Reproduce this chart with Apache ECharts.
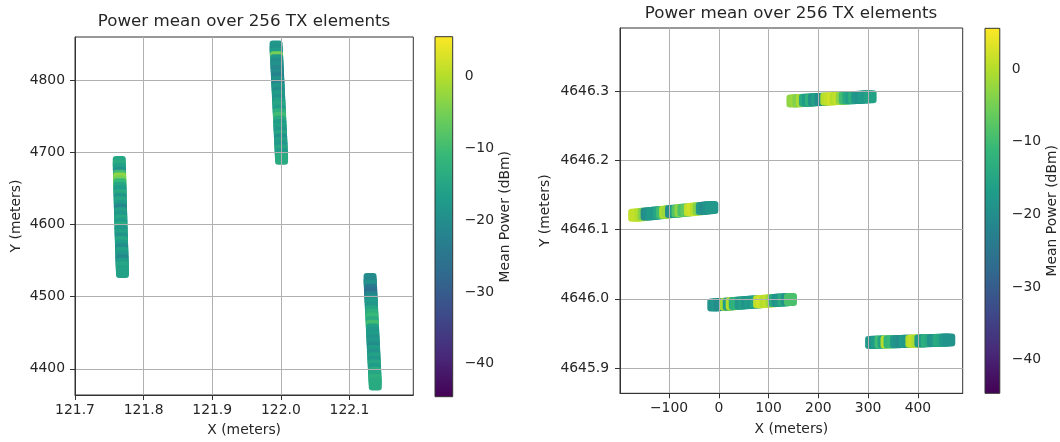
<!DOCTYPE html>
<html><head><meta charset="utf-8">
<script src="https://cdn.jsdelivr.net/npm/echarts@6/dist/echarts.min.js"></script>
<style>html,body{margin:0;padding:0;background:#fff}#c{width:1060px;height:442px}</style>
</head><body><div id="c"></div>
<script>
// ---- Left plot strips: [x, y, meanPower dBm] ----
const leftStrip1 = [
[121.7645,4686,-15],[121.7646,4681,-14],[121.7648,4676,-16],[121.7649,4671,-19],[121.7650,4667,-10],
[121.7651,4663,-3],[121.7652,4659,-5],[121.7654,4655,-11],[121.7655,4650,-15],[121.7656,4645,-17],
[121.7658,4640,-14],[121.7659,4635,-18],[121.7660,4630,-15],[121.7662,4625,-17],[121.7663,4620,-21],
[121.7665,4615,-16],[121.7666,4610,-18],[121.7668,4605,-15],[121.7669,4600,-17],[121.7671,4595,-14],
[121.7672,4590,-18],[121.7674,4585,-16],[121.7676,4580,-19],[121.7677,4575,-15],[121.7679,4570,-17],
[121.7681,4565,-20],[121.7683,4560,-16],[121.7684,4555,-18],[121.7686,4550,-21],[121.7688,4545,-17],
[121.7690,4540,-15],[121.7692,4535,-16]
];
const leftStrip2 = [
[121.9930,4846,-18],[121.9933,4841,-19],[121.9935,4836,-17],[121.9938,4831,-5],[121.9940,4827,-18],
[121.9943,4822,-20],[121.9946,4817,-19],[121.9948,4812,-21],[121.9951,4807,-20],[121.9953,4802,-22],
[121.9956,4797,-19],[121.9959,4792,-21],[121.9961,4787,-18],[121.9964,4782,-20],[121.9966,4777,-17],
[121.9969,4772,-19],[121.9972,4767,-16],[121.9974,4762,-15],[121.9977,4757,-17],[121.9979,4752,-13],
[121.9982,4747,-10],[121.9985,4742,-14],[121.9987,4737,-17],[121.9990,4732,-16],[121.9992,4727,-18],
[121.9995,4722,-15],[121.9998,4717,-19],[122.0000,4712,-16],[122.0003,4707,-18],[122.0005,4702,-15],
[122.0008,4697,-17],[122.0010,4692,-14]
];
const leftStrip3 = [
[122.1300,4524,-20],[122.1303,4519,-21],[122.1305,4514,-19],[122.1308,4509,-24],[122.1310,4504,-26],
[122.1313,4499,-22],[122.1316,4494,-19],[122.1318,4489,-17],[122.1321,4484,-18],[122.1323,4479,-15],
[122.1326,4474,-13],[122.1329,4469,-11],[122.1331,4464,-14],[122.1334,4459,-10],[122.1336,4454,-16],
[122.1339,4449,-18],[122.1342,4444,-17],[122.1344,4439,-19],[122.1347,4434,-18],[122.1349,4429,-20],
[122.1352,4424,-17],[122.1355,4419,-19],[122.1357,4414,-16],[122.1360,4409,-18],[122.1362,4404,-15],
[122.1365,4399,-17],[122.1368,4394,-14],[122.1370,4389,-15],[122.1373,4384,-13],[122.1376,4379,-14]
];
// ---- Right plot strips: [x, y, meanPower dBm] ----
const rightStripA = [
[-169,4646.1206,1],[-163,4646.1210,1],[-157,4646.1215,0],[-150,4646.1219,-4],[-144,4646.1224,-20],
[-138,4646.1228,-19],[-132,4646.1233,-17],[-126,4646.1237,-18],[-119,4646.1242,-15],[-113,4646.1246,-10],
[-107,4646.1251,-1],[-101,4646.1255,-2],[-95,4646.1260,-20],[-88,4646.1264,-18],[-82,4646.1269,-8],
[-76,4646.1273,-3],[-70,4646.1278,-9],[-64,4646.1282,-7],[-57,4646.1287,1],[-51,4646.1291,2],
[-45,4646.1296,0],[-39,4646.1300,-4],[-33,4646.1305,-18],[-26,4646.1309,-20],[-20,4646.1314,-19],
[-14,4646.1318,-18]
];
const rightStripB = [
[149,4646.2856,-3],[155,4646.2858,-2],[161,4646.2861,-4],[168,4646.2863,-1],[174,4646.2866,-14],
[180,4646.2868,-17],[186,4646.2871,-12],[192,4646.2873,-19],[199,4646.2876,-16],[205,4646.2878,-20],
[211,4646.2881,-19],[217,4646.2883,0],[223,4646.2886,1],[230,4646.2888,2],[236,4646.2891,0],
[242,4646.2893,1],[248,4646.2896,-3],[254,4646.2898,-10],[261,4646.2901,-14],[267,4646.2903,-16],
[273,4646.2906,-13],[279,4646.2908,-18],[285,4646.2911,-19],[292,4646.2913,-17],[298,4646.2916,-18],
[304,4646.2918,-16]
];
const rightStripC = [
[-10,4645.9909,-19],[-4,4645.9912,-18],[3,4645.9916,-20],[9,4645.9919,-19],[15,4645.9922,-1],
[21,4645.9925,-17],[27,4645.9929,0],[33,4645.9932,-13],[39,4645.9935,-12],[45,4645.9939,-18],
[52,4645.9942,-16],[58,4645.9945,-19],[64,4645.9948,-17],[70,4645.9952,-18],[76,4645.9955,-15],
[82,4645.9958,1],[88,4645.9962,2],[95,4645.9965,0],[101,4645.9968,1],[107,4645.9971,-2],
[113,4645.9975,-14],[119,4645.9978,-19],[125,4645.9981,-18],[131,4645.9984,-14],[138,4645.9988,-19],
[144,4645.9991,-9]
];
const rightStripD = [
[307,4645.9370,-18],[313,4645.9371,-19],[319,4645.9373,-17],[326,4645.9374,-10],[332,4645.9375,-16],
[338,4645.9377,0],[344,4645.9378,-12],[350,4645.9380,-11],[357,4645.9381,-18],[363,4645.9382,-19],
[369,4645.9384,-20],[375,4645.9385,-17],[381,4645.9386,-18],[388,4645.9388,0],[394,4645.9389,1],
[400,4645.9390,-1],[406,4645.9392,-18],[412,4645.9393,-17],[419,4645.9394,-13],[425,4645.9396,-14],
[431,4645.9397,-19],[437,4645.9398,-18],[443,4645.9400,-14],[450,4645.9401,-15],[456,4645.9403,-18],
[462,4645.9404,-19]
];
// ---- Axis ranges & tick labels ----
const leftXRange = [121.7, 122.193];
const leftYRange = [4363.8, 4859.9];
const rightXRange = [-198.5, 490];
const rightYRange = [4645.8635, 4646.391];
const powerRange = [-44.6, 5.6];
const leftXTicks = [121.7, 121.8, 121.9, 122.0, 122.1];
const leftYTicks = [4400, 4500, 4600, 4700, 4800];
const rightXTicks = [-100, 0, 100, 200, 300, 400];
const rightYTicks = [4645.9, 4646.0, 4646.1, 4646.2, 4646.3];
const cbarTicks = [-40, -30, -20, -10, 0];
const viridis = ['#440154','#482878','#3e4989','#31688e','#26828e','#1f9e89','#35b779','#6ece58','#b5de2b','#fde725'];

const FONT = 'DejaVu Sans';
const TXT = '#262626';
const minus = s => String(s).replace('-', '\u2212');

function plotAxis(grid, range, ticks, fmt, name, gap, margin) {
  return {
    type: 'value', gridIndex: grid, min: range[0], max: range[1], z: 10,
    name: name, nameLocation: 'middle', nameGap: gap,
    nameTextStyle: {fontFamily: FONT, fontSize: 13.9, color: TXT},
    axisLine: {show: true, onZero: false, lineStyle: {color: '#333', width: 1}},
    axisTick: {show: true, customValues: ticks, length: 5, lineStyle: {color: '#333', width: 1}},
    axisLabel: {customValues: ticks, formatter: fmt, fontFamily: FONT, fontSize: 13.9, color: TXT, margin: margin},
    splitLine: {show: true, lineStyle: {color: '#b0b0b0', width: 1}}
  };
}
function cbarX(grid) {
  return {type: 'value', gridIndex: grid, min: 0, max: 1, show: false};
}
function cbarY(grid, gap) {
  return {
    type: 'value', gridIndex: grid, min: powerRange[0], max: powerRange[1], position: 'right',
    name: 'Mean Power (dBm)', nameLocation: 'middle', nameGap: gap, nameRotate: 90,
    nameTextStyle: {fontFamily: FONT, fontSize: 13.9, color: TXT},
    axisLine: {show: false},
    axisTick: {show: true, customValues: cbarTicks, length: 5, lineStyle: {color: '#333', width: 1}},
    axisLabel: {customValues: cbarTicks, formatter: v => minus(v), fontFamily: FONT, fontSize: 13.9, color: TXT, margin: 12},
    splitLine: {show: false}
  };
}
function scatter(data, xi, yi) {
  return {type: 'scatter', xAxisIndex: xi, yAxisIndex: yi, data: data, symbol: 'roundRect', symbolSize: 13,
          itemStyle: {opacity: 1}, silent: true, animation: false};
}
function cbarSeries(xi, yi) {
  return {
    type: 'custom', xAxisIndex: xi, yAxisIndex: yi, silent: true, animation: false,
    data: [[0, powerRange[0], 1, powerRange[1]]],
    encode: {x: [0, 2], y: [1, 3]},
    renderItem: function (params, api) {
      const p0 = api.coord([api.value(0), api.value(1)]);
      const p1 = api.coord([api.value(2), api.value(3)]);
      return {
        type: 'rect',
        shape: {x: p0[0], y: p1[1], width: p1[0] - p0[0], height: p0[1] - p1[1]},
        style: {
          fill: new echarts.graphic.LinearGradient(0, 1, 0, 0,
            viridis.map((c, i) => ({offset: i / (viridis.length - 1), color: c}))),
          stroke: '#333', lineWidth: 1
        }
      };
    }
  };
}

const chart = echarts.init(document.getElementById('c'));
chart.setOption({
  backgroundColor: '#fff',
  animation: false,
  title: [
    {text: 'Power mean over 256 TX elements', left: 244, top: 13, textAlign: 'center', padding: 0,
     textStyle: {fontFamily: FONT, fontSize: 16.7, fontWeight: 'normal', color: TXT}},
    {text: 'Power mean over 256 TX elements', left: 791, top: 5, textAlign: 'center', padding: 0,
     textStyle: {fontFamily: FONT, fontSize: 16.7, fontWeight: 'normal', color: TXT}}
  ],
  grid: [
    {left: 75, top: 37, width: 338.3, height: 360, show: true, borderColor: '#333', borderWidth: 1, backgroundColor: 'transparent'},
    {left: 435, top: 36.7, width: 17.7, height: 360},
    {left: 620, top: 28, width: 342.7, height: 365.3, show: true, borderColor: '#333', borderWidth: 1, backgroundColor: 'transparent'},
    {left: 985, top: 28.3, width: 17.7, height: 365}
  ],
  xAxis: [
    plotAxis(0, leftXRange, leftXTicks, v => v.toFixed(1), 'X (meters)', 28, 8),
    cbarX(1),
    plotAxis(2, rightXRange, rightXTicks, v => minus(v), 'X (meters)', 29, 8),
    cbarX(3)
  ],
  yAxis: [
    plotAxis(0, leftYRange, leftYTicks, v => String(v), 'Y (meters)', 52, 10),
    cbarY(1, 45),
    plotAxis(2, rightYRange, rightYTicks, v => v.toFixed(1), 'Y (meters)', 68, 11),
    cbarY(3, 43)
  ],
  visualMap: [
    {type: 'continuous', show: false, min: powerRange[0], max: powerRange[1], dimension: 2,
     seriesIndex: [0, 1, 2], inRange: {color: viridis}},
    {type: 'continuous', show: false, min: powerRange[0], max: powerRange[1], dimension: 2,
     seriesIndex: [4, 5, 6, 7], inRange: {color: viridis}}
  ],
  series: [
    scatter(leftStrip1, 0, 0),
    scatter(leftStrip2, 0, 0),
    scatter(leftStrip3, 0, 0),
    cbarSeries(1, 1),
    scatter(rightStripA, 2, 2),
    scatter(rightStripB, 2, 2),
    scatter(rightStripC, 2, 2),
    scatter(rightStripD, 2, 2),
    cbarSeries(3, 3)
  ]
});
</script></body></html>
